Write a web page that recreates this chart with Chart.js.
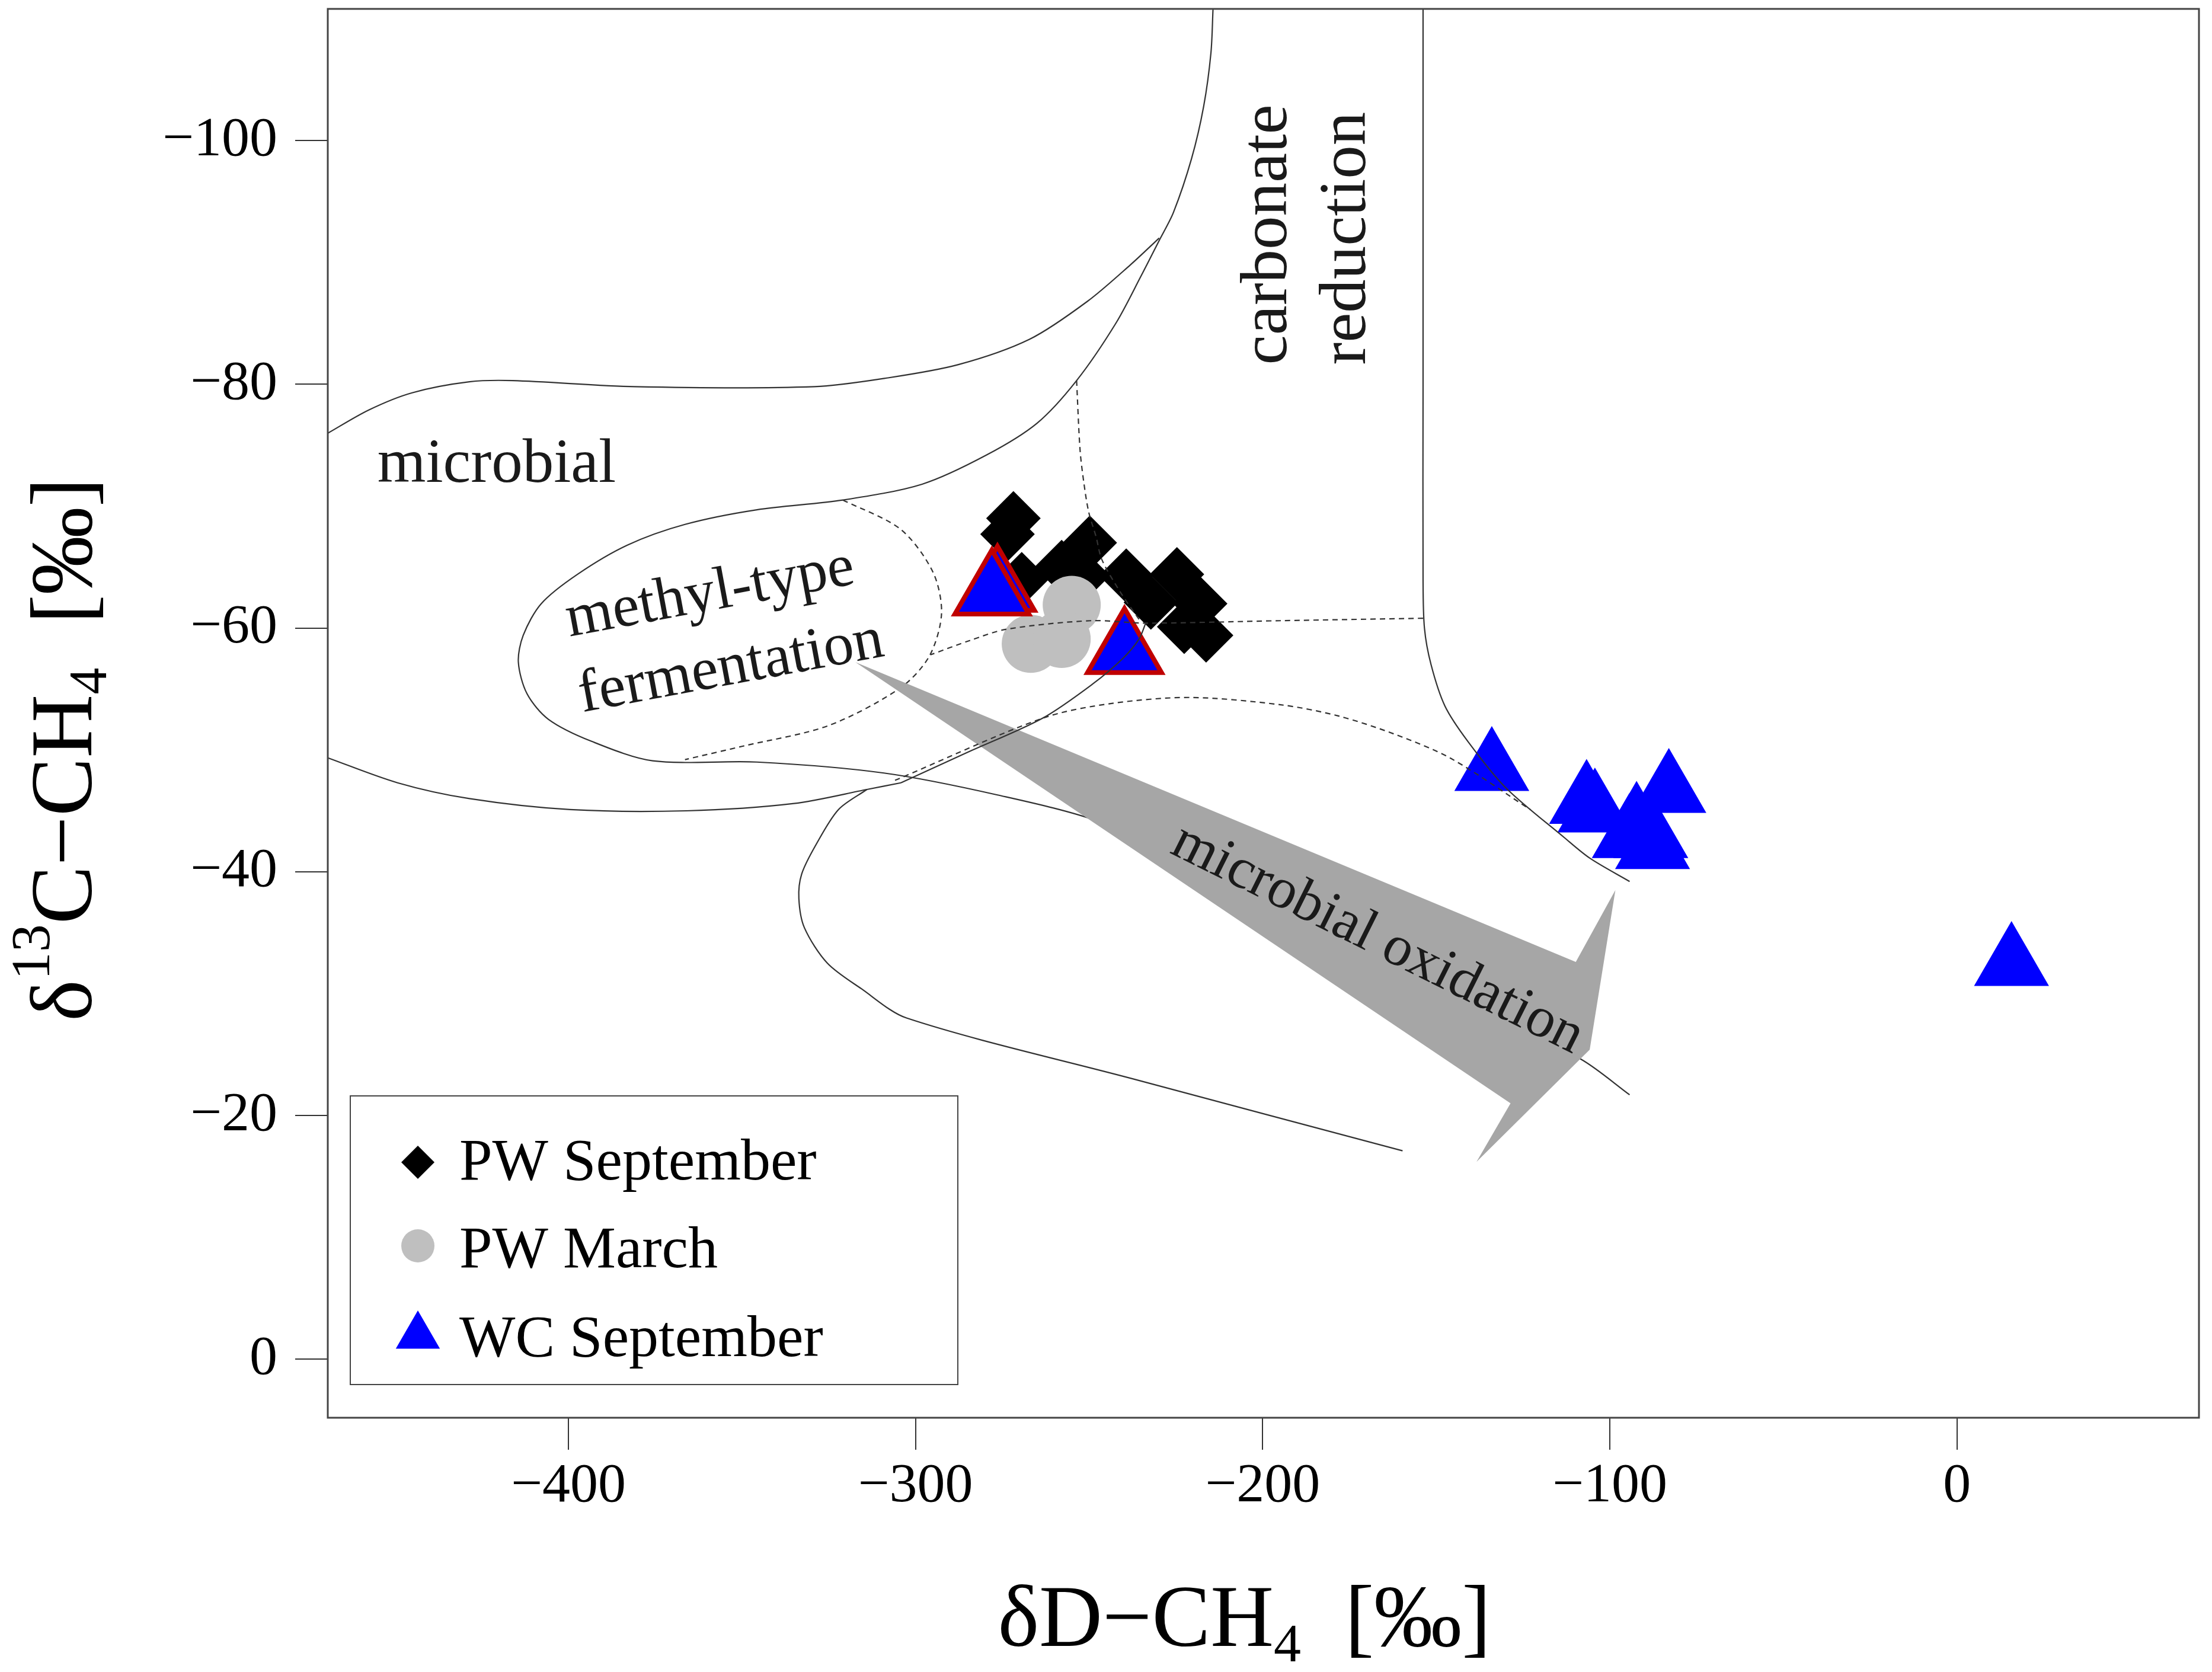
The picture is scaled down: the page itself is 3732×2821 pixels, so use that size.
<!DOCTYPE html>
<html>
<head>
<meta charset="utf-8">
<script src="https://cdn.jsdelivr.net/npm/chart.js@4.4.1/dist/chart.umd.min.js"></script>
<style>
  html, body { margin: 0; padding: 0; background: #fff; }
  #wrap { width: 3732px; height: 2821px; }
</style>
</head>
<body>
<div id="wrap"><canvas id="chart" width="3732" height="2821"></canvas></div>
<script>
// axis ticks
const xTicks = [-400, -300, -200, -100, 0];
const yTicks = [-100, -80, -60, -40, -20, 0];

// samples  [dD-CH4, d13C-CH4]
const pwSeptember = [
  [-271.8, -69.0], [-273.5, -67.7], [-269.4, -64.0], [-257.9, -65.0],
  [-249.8, -67.0], [-251.8, -64.3], [-239.3, -64.3], [-224.7, -64.4],
  [-218.0, -62.0], [-216.3, -59.4], [-222.6, -60.1], [-232.2, -62.1]
];
const pwMarch = [[-255.0, -61.9], [-266.8, -58.7], [-257.9, -59.1]];
const wcSeptember = [
  [-134.0, -48.4], [-106.7, -45.7], [-104.3, -45.0], [-83.0, -46.6],
  [-92.3, -43.9], [-94.4, -42.9], [-88.2, -42.9], [-87.7, -42.0], [15.7, -32.4]
];
// WC September samples drawn with a red outline
const wcSeptemberMarked = [[-276.4, -63.2], [-278.0, -62.9], [-239.8, -58.1]];

// field boundaries of the diagram
const outerBoundary = [
  [-214.3, -110.8], [-214.9, -107.2], [-217.0, -102.8], [-220.5, -98.5], [-225.7, -94.1],
  [-229.8, -91.8], [-235.0, -88.9], [-242.3, -85.0], [-253.6, -80.3], [-265.0, -76.8],
  [-279.5, -74.2], [-298.1, -71.8], [-320.9, -70.5], [-345.7, -69.7], [-366.4, -68.5],
  [-383.0, -66.8], [-397.4, -64.4], [-407.8, -62.0], [-413.0, -59.4], [-414.4, -57.2],
  [-411.9, -54.6], [-405.7, -52.5], [-393.3, -50.7], [-375.7, -49.1], [-345.7, -49.0],
  [-309.1, -48.1], [-276.4, -46.3], [-247.0, -44.1], [-200.0, -38.3], [-150.0, -30.8],
  [-108.2, -24.6], [-94.3, -21.7]
];
const microbialTop = [
  [-469.8, -75.9], [-457.4, -77.9], [-445.0, -79.3], [-428.5, -80.2], [-416.0, -80.3],
  [-380.9, -79.8], [-329.1, -79.8], [-308.5, -80.5], [-287.8, -81.6], [-267.1, -83.7],
  [-250.5, -86.8], [-238.1, -89.8], [-229.8, -92.0]
];
const microbialBottom = [
  [-469.8, -49.4], [-449.2, -47.3], [-428.5, -46.0], [-399.5, -45.1], [-366.0, -45.0],
  [-335.0, -45.6], [-314.0, -46.75], [-304.2, -47.3]
];
const methylDashed = [
  [-320.9, -70.5], [-304.3, -68.1], [-295.0, -64.6], [-292.5, -61.2], [-296.0, -57.7],
  [-304.3, -55.1], [-325.0, -52.0], [-349.8, -50.3], [-366.4, -49.2]
];
const midDashed = [
  [-153.8, -60.8], [-195.0, -60.6], [-233.7, -60.4], [-249.6, -60.6], [-273.8, -59.9],
  [-284.1, -59.0], [-295.7, -57.8]
];
const verticalDashed = [
  [-253.6, -80.3], [-252.6, -74.6], [-251.5, -71.9], [-250.1, -69.5], [-248.0, -67.5],
  [-246.3, -65.6], [-240.9, -62.9], [-235.1, -60.5]
];
const thermogenic = [
  [-314.0, -46.75], [-322.2, -45.1], [-328.7, -42.2], [-332.8, -39.8], [-333.6, -37.8],
  [-332.0, -35.4], [-325.4, -32.5], [-315.6, -30.4], [-302.6, -28.0], [-237.3, -23.0],
  [-159.7, -17.1]
];
const junctionSolid = [
  [-304.2, -47.3], [-285.0, -49.8], [-263.4, -52.6], [-249.0, -55.4], [-240.3, -57.5],
  [-235.6, -59.1], [-233.7, -60.4]
];
const arcDashed = [
  [-305.9, -47.5], [-263.4, -52.6], [-243.8, -53.8], [-220.9, -54.3], [-194.8, -53.7],
  [-178.4, -52.8], [-162.1, -51.3], [-145.8, -49.3], [-122.9, -45.1]
];
const carbonateLine = [
  [-153.8, -110.8], [-153.8, -80.0], [-153.8, -64.0], [-153.4, -60.0], [-151.5, -57.0],
  [-147.5, -53.6], [-140.9, -50.7], [-130.0, -46.9], [-113.1, -42.8], [-105.7, -41.1],
  [-94.3, -39.2]
];
const oxidationArrow = [
  [-317.3, -57.2], [-109.8, -32.6], [-98.4, -38.5], [-105.8, -25.4],
  [-138.4, -16.2], [-128.6, -21.0], [-317.3, -57.2]
];

const pts = arr => arr.map(p => ({ x: p[0], y: p[1] }));
const minus = v => (v < 0 ? '\u2212' + Math.abs(v) : String(v));
const SERIF = '"Liberation Serif", "Times New Roman", serif';

function boundary(data, dashed, order) {
  return {
    type: 'line', data: pts(data), borderColor: '#333', borderWidth: 2.2,
    borderDash: dashed ? [9, 7] : [], tension: 0.3, pointRadius: 0, fill: false, order: order
  };
}

const datasets = [
  { label: 'PW September', data: pts(pwSeptember), pointStyle: 'rectRot', pointRadius: 46,
    pointBackgroundColor: '#000', pointBorderColor: '#000', pointBorderWidth: 0, order: 6, inLegend: true, legendRadius: 28 },
  { label: 'PW March', data: pts(pwMarch), pointStyle: 'circle', pointRadius: 49,
    pointBackgroundColor: '#bfbfbf', pointBorderColor: '#bfbfbf', pointBorderWidth: 0, order: 5, inLegend: true, legendRadius: 28 },
  { label: 'WC September', data: pts(wcSeptember), pointStyle: 'triangle', pointRadius: 73,
    pointBackgroundColor: '#0000ff', pointBorderColor: '#0000ff', pointBorderWidth: 0, order: 4, inLegend: true, legendRadius: 43 },
  { label: 'WC September', data: pts(wcSeptemberMarked), pointStyle: 'triangle', pointRadius: 72,
    pointBackgroundColor: '#0000ff', pointBorderColor: '#c00000', pointBorderWidth: 8, order: 3 },
  boundary(outerBoundary, false, 2),
  boundary(microbialTop, false, 2),
  boundary(microbialBottom, false, 2),
  boundary(methylDashed, true, 2),
  boundary(midDashed, true, 2),
  boundary(verticalDashed, true, 2),
  boundary(thermogenic, false, 2),
  boundary(carbonateLine, false, 2),
  { type: 'line', data: pts(oxidationArrow), borderWidth: 0, borderColor: '#a6a6a6',
    backgroundColor: '#a6a6a6', fill: 'shape', tension: 0, pointRadius: 0, order: 1 },
  boundary(junctionSolid, false, 0),
  boundary(arcDashed, true, 0)
];

// text inside the diagram, placed in data units
const fieldLabels = [
  { text: 'microbial', x: -455, y: -72.0, rot: 0, size: 105 },
  { text: 'methyl-type', x: -399.7, y: -59.3, rot: -10.5, size: 102 },
  { text: 'fermentation', x: -396.0, y: -53.1, rot: -10.5, size: 102 },
  { text: 'carbonate', x: -193.3, y: -81.6, rot: -90, size: 113 },
  { text: 'reduction', x: -170.6, y: -81.6, rot: -90, size: 113 },
  { text: 'microbial oxidation', x: -227.1, y: -41.6, rot: 26.5, size: 97 }
];

function drawRich(ctx, parts, x, y) {
  let cx = x;
  parts.forEach(p => {
    ctx.font = p.size + 'px ' + SERIF;
    ctx.fillText(p.t, cx, y + (p.dy || 0));
    cx += ctx.measureText(p.t).width;
  });
}
function richWidth(ctx, parts) {
  let w = 0;
  parts.forEach(p => { ctx.font = p.size + 'px ' + SERIF; w += ctx.measureText(p.t).width; });
  return w;
}

const decorPlugin = {
  id: 'decor',
  beforeDraw(chart) {
    const c = chart.ctx;
    c.save();
    c.fillStyle = '#fff';
    c.fillRect(0, 0, chart.width, chart.height);
    c.restore();
  },
  afterDatasetsDraw(chart) {
    const c = chart.ctx, xs = chart.scales.x, ys = chart.scales.y;
    c.save();
    c.fillStyle = '#1a1a1a';
    c.textAlign = 'left';
    c.textBaseline = 'alphabetic';
    fieldLabels.forEach(l => {
      c.save();
      c.translate(xs.getPixelForValue(l.x), ys.getPixelForValue(l.y));
      c.rotate(l.rot * Math.PI / 180);
      c.font = l.size + 'px ' + SERIF;
      c.fillText(l.text, 0, 0);
      c.restore();
    });
    c.restore();
  },
  afterDraw(chart) {
    const c = chart.ctx, a = chart.chartArea;
    c.save();
    // plot frame
    c.strokeStyle = '#444';
    c.lineWidth = 3;
    c.strokeRect(a.left, a.top, a.right - a.left, a.bottom - a.top);

    // legend box
    const lx = a.left + 38, ly = a.bottom - 543;
    c.lineWidth = 2;
    c.strokeRect(lx, ly, 1025, 487);
    const rowsY = [112, 253, 405];
    const baseY = [141, 289, 439];
    let row = 0;
    chart.data.datasets.forEach(ds => {
      if (!ds.inLegend) return;
      c.fillStyle = ds.pointBackgroundColor;
      c.strokeStyle = ds.pointBackgroundColor;
      Chart.helpers.drawPoint(c, { pointStyle: ds.pointStyle, radius: ds.legendRadius, rotation: 0, borderWidth: 0 },
        lx + 114, ly + rowsY[row]);
      c.fillStyle = '#000';
      c.font = '100px ' + SERIF;
      c.textAlign = 'left';
      c.textBaseline = 'alphabetic';
      c.fillText(ds.label, lx + 184, ly + baseY[row]);
      row++;
    });

    // axis titles
    c.fillStyle = '#000';
    c.textAlign = 'left';
    c.textBaseline = 'alphabetic';
    const xt = [{ t: '\u03b4D\u2212CH', size: 148 }, { t: '4', size: 92, dy: 26 }, { t: '  [\u2030]', size: 148 }];
    const cx = (a.left + a.right) / 2 - 32;
    drawRich(c, xt, cx - richWidth(c, xt) / 2, a.bottom + 385);

    const yt = [{ t: '\u03b4', size: 148 }, { t: '13', size: 94, dy: -71 }, { t: 'C\u2212CH', size: 148 },
      { t: '4', size: 90, dy: 25 }, { t: '  [\u2030]', size: 148 }];
    c.translate(a.left - 399, (a.top + a.bottom) / 2 + 61);
    c.rotate(-Math.PI / 2);
    drawRich(c, yt, -richWidth(c, yt) / 2, 0);
    c.restore();
  }
};

new Chart(document.getElementById('chart'), {
  type: 'scatter',
  data: { datasets: datasets },
  options: {
    responsive: false,
    devicePixelRatio: 1,
    animation: false,
    events: [],
    layout: { autoPadding: false, padding: { top: 15, right: 22, left: 0, bottom: 0 } },
    plugins: { legend: { display: false }, tooltip: { enabled: false } },
    scales: {
      x: {
        type: 'linear', min: -469.3, max: 69.7,
        afterFit: s => { s.height = 429; s.paddingLeft = 0; s.paddingRight = 0; s.paddingTop = 0; s.paddingBottom = 0; },
        afterBuildTicks: s => { s.ticks = xTicks.map(v => ({ value: v })); },
        grid: { drawOnChartArea: false, drawTicks: true, tickLength: 54, color: '#333', lineWidth: 2 },
        border: { display: false },
        ticks: { font: { family: SERIF, size: 94 }, color: '#000', padding: 6, maxRotation: 0, autoSkip: false, callback: minus }
      },
      y: {
        type: 'linear', reverse: true, min: -110.8, max: 4.8,
        afterFit: s => { s.width = 553; s.paddingLeft = 0; s.paddingRight = 0; s.paddingTop = 0; s.paddingBottom = 0; },
        afterBuildTicks: s => { s.ticks = yTicks.map(v => ({ value: v })); },
        grid: { drawOnChartArea: false, drawTicks: true, tickLength: 55, color: '#333', lineWidth: 2 },
        border: { display: false },
        ticks: { font: { family: SERIF, size: 94 }, color: '#000', padding: 30, autoSkip: false, callback: minus }
      }
    }
  },
  plugins: [decorPlugin]
});
</script>
</body>
</html>
